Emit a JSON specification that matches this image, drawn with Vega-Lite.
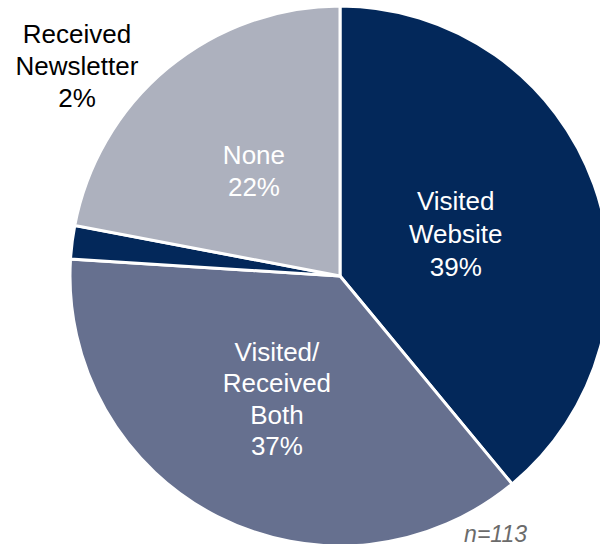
{
  "$schema": "https://vega.github.io/schema/vega-lite/v6.json",
  "width": 520,
  "height": 536,
  "autosize": {"type": "none"},
  "padding": {"left": 80, "top": 8, "right": 0, "bottom": 0},
  "background": "white",
  "view": {"stroke": null},
  "title": {
    "text": "n=113",
    "orient": "bottom",
    "anchor": "end",
    "frame": "group",
    "baseline": "alphabetic",
    "offset": 0,
    "dy": -10,
    "dx": -73,
    "font": "Liberation Sans",
    "fontSize": 23,
    "fontStyle": "italic",
    "fontWeight": "normal",
    "color": "#6b6b6b"
  },
  "data": {
    "values": [
      {"category": "Visited Website", "label": "Visited\nWebsite\n39%", "value": 39, "ord": 1},
      {"category": "Visited/Received Both", "label": "Visited/\nReceived\nBoth\n37%", "value": 37, "ord": 2},
      {"category": "Received Newsletter", "label": "Received\nNewsletter\n2%", "value": 2, "ord": 3},
      {"category": "None", "label": "None\n22%", "value": 22, "ord": 4}
    ]
  },
  "encoding": {
    "theta": {"field": "value", "type": "quantitative", "stack": true},
    "order": {"field": "ord", "type": "quantitative"}
  },
  "layer": [
    {
      "mark": {"type": "arc", "outerRadius": 270, "stroke": "white", "strokeWidth": 3},
      "encoding": {
        "color": {
          "field": "category",
          "type": "nominal",
          "scale": {
            "domain": ["Visited Website", "Visited/Received Both", "Received Newsletter", "None"],
            "range": ["#03285a", "#66708f", "#03285a", "#adb1be"]
          },
          "legend": null
        }
      }
    },
    {
      "mark": {"type": "text", "radius": 123, "dy": -32, "lineBreak": "\n", "lineHeight": 33, "font": "Liberation Sans", "fontSize": 26, "color": "white", "align": "center", "baseline": "middle"},
      "encoding": {
        "text": {"field": "label"},
        "opacity": {"condition": {"test": "datum.category == 'Visited Website'", "value": 1}, "value": 0}
      }
    },
    {
      "mark": {"type": "text", "radius": 139, "dy": -47, "lineBreak": "\n", "lineHeight": 31.5, "font": "Liberation Sans", "fontSize": 26, "color": "white", "align": "center", "baseline": "middle"},
      "encoding": {
        "text": {"field": "label"},
        "opacity": {"condition": {"test": "datum.category == 'Visited/Received Both'", "value": 1}, "value": 0}
      }
    },
    {
      "mark": {"type": "text", "radius": 135, "dy": -16, "lineBreak": "\n", "lineHeight": 32, "font": "Liberation Sans", "fontSize": 26, "color": "white", "align": "center", "baseline": "middle"},
      "encoding": {
        "text": {"field": "label"},
        "opacity": {"condition": {"test": "datum.category == 'None'", "value": 1}, "value": 0}
      }
    },
    {
      "mark": {"type": "text", "radius": 336, "thetaOffset": 0.546, "dy": -32, "lineBreak": "\n", "lineHeight": 32, "font": "Liberation Sans", "fontSize": 26, "color": "black", "align": "center", "baseline": "middle"},
      "encoding": {
        "text": {"field": "label"},
        "opacity": {"condition": {"test": "datum.category == 'Received Newsletter'", "value": 1}, "value": 0}
      }
    }
  ]
}
